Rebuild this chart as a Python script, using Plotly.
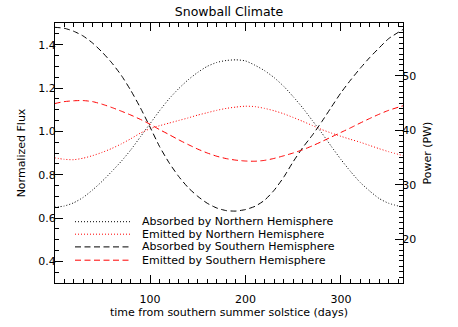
import plotly.graph_objects as go

# ---- data ----
days = [0, 10, 20, 30, 40, 50, 60, 70, 80, 90, 100, 110, 120, 130, 140, 150, 160, 170, 180,
        190, 200, 210, 220, 230, 240, 250, 260, 270, 280, 290, 300, 310, 320, 330, 340, 350, 365]

absorbed_north = [0.650, 0.655, 0.670, 0.695, 0.730, 0.770, 0.815, 0.862, 0.915, 0.975, 1.035,
                  1.095, 1.150, 1.197, 1.238, 1.272, 1.300, 1.318, 1.327, 1.330, 1.325, 1.305,
                  1.280, 1.248, 1.208, 1.160, 1.108, 1.050, 0.992, 0.930, 0.870, 0.815, 0.765,
                  0.725, 0.690, 0.668, 0.650]
emitted_north = [0.878, 0.871, 0.869, 0.876, 0.888, 0.903, 0.921, 0.942, 0.966, 0.992, 1.012,
                 1.026, 1.038, 1.050, 1.062, 1.075, 1.086, 1.097, 1.106, 1.112, 1.116, 1.114,
                 1.106, 1.095, 1.081, 1.064, 1.046, 1.027, 1.008, 0.992, 0.977, 0.963, 0.950,
                 0.935, 0.920, 0.906, 0.888]
absorbed_south = [1.480, 1.476, 1.462, 1.440, 1.407, 1.365, 1.316, 1.258, 1.188, 1.108, 1.020,
                  0.930, 0.855, 0.792, 0.740, 0.700, 0.668, 0.646, 0.634, 0.632, 0.639, 0.654,
                  0.682, 0.728, 0.788, 0.860, 0.925, 0.982, 1.045, 1.112, 1.178, 1.236, 1.290,
                  1.340, 1.385, 1.428, 1.470]
emitted_south = [1.128, 1.137, 1.141, 1.142, 1.137, 1.125, 1.110, 1.093, 1.075, 1.055, 1.033,
                 1.008, 0.985, 0.961, 0.939, 0.918, 0.900, 0.885, 0.874, 0.867, 0.863, 0.862,
                 0.866, 0.875, 0.887, 0.900, 0.915, 0.933, 0.953, 0.974, 0.995, 1.016, 1.038,
                 1.059, 1.079, 1.097, 1.118]

series_names = ["Absorbed by Northern Hemisphere", "Emitted by Northern Hemisphere",
                "Absorbed by Southern Hemisphere", "Emitted by Southern Hemisphere"]
series_values = [absorbed_north, emitted_north, absorbed_south, emitted_south]
series_colors = ["#000000", "#ff0000", "#000000", "#ff0000"]
series_dash = ["1px,2px", "1px,2px", "6px,3.5px", "6px,3.5px"]

flux_ticks = [0.4, 0.6, 0.8, 1.0, 1.2, 1.4]
power_ticks = [20, 30, 40, 50]
day_ticks = [100, 200, 300]
flux_to_power = 39.8

FONT = "DejaVu Sans"

fig = go.Figure()
for name, vals, col, dash in zip(series_names, series_values, series_colors, series_dash):
    fig.add_trace(go.Scatter(x=days, y=vals, mode="lines", name=name, showlegend=False,
                             line=dict(color=col, width=1, dash=dash, shape="spline", smoothing=0.6)))

# invisible trace to activate the right (power) axis
fig.add_trace(go.Scatter(x=[days[0]], y=[absorbed_north[0] * flux_to_power], yaxis="y2",
                         mode="markers", marker=dict(opacity=0), showlegend=False, hoverinfo="skip"))

# manual legend (IDL style)
W, H = 458, 327
L, R, T, B = 55, 55, 23, 44
pw, ph = W - L - R, H - T - B
def px_x(px):
    return (px - L) / pw
def px_y(py):
    return (H - B - py) / ph

rows = [221.7, 234.2, 246.9, 260.2]
for name, col, dash, ry in zip(series_names, series_colors, series_dash, rows):
    fig.add_shape(type="line", xref="paper", yref="paper",
                  x0=px_x(75), x1=px_x(132), y0=px_y(ry), y1=px_y(ry),
                  line=dict(color=col, width=1, dash=dash))
    fig.add_annotation(xref="paper", yref="paper", x=px_x(140), y=px_y(ry), text=name,
                       showarrow=False, xanchor="left", yanchor="middle",
                       font=dict(family=FONT, size=11, color="black"))

axis_common = dict(showgrid=False, zeroline=False, showline=True, linecolor="black", linewidth=1,
                   ticks="inside", tickcolor="black", tickwidth=1,
                   tickfont=dict(family=FONT, size=11, color="black"))

fig.update_layout(
    width=W, height=H,
    margin=dict(l=L, r=R, t=T, b=B),
    paper_bgcolor="white", plot_bgcolor="white",
    font=dict(family=FONT, size=11, color="black"),
    title=dict(text="Snowball Climate", x=0.5, xanchor="center", y=1 - 12 / H, yanchor="middle",
               font=dict(family=FONT, size=12.5, color="black")),
    xaxis=dict(range=[0.5, 365], tickvals=day_ticks, ticklen=8, mirror="ticks",
               minor=dict(dtick=10, tick0=0, ticks="inside", ticklen=4, tickcolor="black"),
               ticklabelstandoff=6,
               title=dict(text="time from southern summer solstice (days)", standoff=2,
                          font=dict(family=FONT, size=11, color="black")),
               **axis_common),
    yaxis=dict(range=[0.3, 1.5], tickvals=flux_ticks, tickformat=".1f", ticklen=8,
               minor=dict(dtick=0.05, tick0=0, ticks="inside", ticklen=4, tickcolor="black"),
               ticklabelstandoff=-4,
               title=dict(text="Normalized Flux", standoff=10,
                          font=dict(family=FONT, size=11, color="black")),
               **axis_common),
    yaxis2=dict(overlaying="y", side="right",
                range=[0.3 * flux_to_power, 1.5 * flux_to_power], tickvals=power_ticks, ticklen=8,
                minor=dict(dtick=1, tick0=0, ticks="inside", ticklen=4, tickcolor="black"),
                ticklabelstandoff=-4,
                title=dict(text="Power (PW)", standoff=8,
                           font=dict(family=FONT, size=11, color="black")),
                **axis_common),
)

fig.write_html("out.html", config={"displayModeBar": False},
               post_script="document.body.style.margin='0';")
